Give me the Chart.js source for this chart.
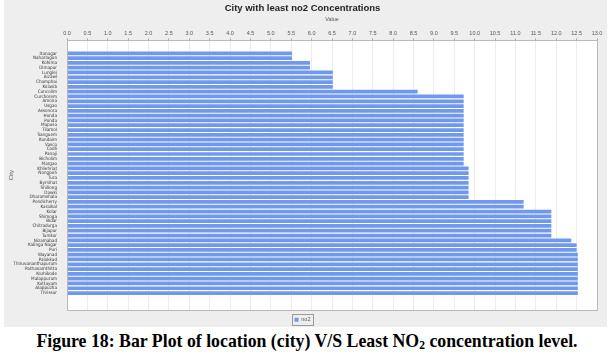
<!DOCTYPE html>
<html><head><meta charset="utf-8">
<script src="https://cdn.jsdelivr.net/npm/chart.js@4"></script>
<style>
html,body{margin:0;padding:0;background:#fff;width:614px;height:354px;overflow:hidden}
#panel{position:absolute;left:4px;top:0;width:603px;height:327px;background:#eeeeee}
#cap{position:absolute;left:0;top:331px;width:614px;text-align:center;font:bold 17.8px/20px "Liberation Serif","Times New Roman",serif;color:#000;white-space:nowrap}
#cap sub{font-size:11.5px;vertical-align:-2px;line-height:0}
</style></head><body>
<div id="panel"><canvas id="c" width="603" height="327"></canvas></div>
<div id="cap">Figure 18: Bar Plot of location (city) V/S Least NO<sub>2</sub> concentration level.</div>
<script>
const cities = ["Itanagar","Naharlagun","Kohima","Dimapur","Lunglei","Aizawl","Champhai","Kolasib","Cuncolim","Curchorem","Amona","Usgao","Assonora","Honda","Ponda","Mapusa","Tilamol","Sanguem","Kundaim","Vasco","Codli","Panaji","Bicholim","Margao","Khliehriat","Nongpoh","Tura","Byrnihat","Shillong","Dawki","Dharamshala","Pondicherry","Karaikal","Kolar","Shimoga","Bidar","Chitradurga","Bijapur","Tumkur","Nizamabad","Kalinga Nagar","Puri","Wayanad","Palakkad","Thiruvananthapuram","Pathanamthitta","Kozhikode","Malappuram","Kottayam","Alappuzha","Thrissur"];
const no2 = [5.52,5.52,5.96,5.96,6.52,6.52,6.52,6.52,8.6,9.73,9.73,9.73,9.73,9.73,9.73,9.73,9.73,9.73,9.73,9.73,9.73,9.73,9.73,9.73,9.85,9.85,9.85,9.85,9.85,9.85,9.85,11.2,11.2,11.88,11.88,11.88,11.88,11.88,11.88,12.37,12.5,12.5,12.53,12.53,12.53,12.53,12.53,12.53,12.53,12.53,12.53];
const seriesName = "no2";
const chartTitle = "City with least no2 Concentrations";
const xAxisTitle = "Value";
const yAxisTitle = "City";
const xMin = 0, xMax = 13, xStep = 0.5;

const plotFrame = {
  id: 'plotFrame',
  afterLayout(chart) {
    const y = chart.scales.y;
    const L = y.bottom - y.top;
    y._startPixel = y.top + L * 0.039;
    y._endPixel = y.bottom - L * 0.054;
    y._length = y._endPixel - y._startPixel;
  },
  beforeDraw(chart) {
    const {ctx, chartArea: a} = chart;
    ctx.save();
    ctx.fillStyle = '#ffffff';
    ctx.fillRect(a.left, a.top, a.right - a.left, a.bottom - a.top);
    ctx.restore();
  },
  afterDraw(chart) {
    const {ctx, chartArea: a} = chart;
    ctx.save();
    ctx.strokeStyle = '#b8b8b8';
    ctx.lineWidth = 1;
    ctx.strokeRect(Math.round(a.left) + 0.5, Math.round(a.top) + 0.5, Math.round(a.right - a.left), Math.round(a.bottom - a.top));
    const hb = chart.legend.legendHitBoxes[0];
    if (hb) {
      ctx.strokeStyle = '#9a9a9a';
      ctx.strokeRect(Math.round(hb.left) - 2.5, Math.round(hb.top) - 2.5, Math.round(hb.width) + 5, Math.round(hb.height) + 5);
    }
    ctx.restore();
  }
};

new Chart(document.getElementById('c'), {
  type: 'bar',
  data: {
    labels: cities,
    datasets: [{
      label: seriesName,
      data: no2,
      backgroundColor: 'rgb(112,152,236)',
      borderWidth: 0,
      barPercentage: 0.78,
      categoryPercentage: 1.0
    }]
  },
  plugins: [plotFrame],
  options: {
    indexAxis: 'y',
    responsive: false,
    animation: false,
    devicePixelRatio: 1,
    layout: { padding: { left: 4, right: 10, top: 0, bottom: 0 } },
    plugins: {
      title: {
        display: true,
        text: chartTitle,
        color: '#222',
        font: { family: 'Liberation Sans', size: 9.5, weight: 'bold' },
        padding: { top: 3, bottom: 2 }
      },
      legend: {
        position: 'bottom',
        maxHeight: 17,
        labels: {
          boxWidth: 4, boxHeight: 4, padding: 7,
          color: '#555',
          font: { family: 'Liberation Sans', size: 5.5 }
        }
      },
      tooltip: { enabled: false }
    },
    scales: {
      x: {
        position: 'top',
        min: xMin, max: xMax,
        afterFit(s) { s.height = 24; },
        ticks: {
          stepSize: xStep,
          color: '#555',
          font: { family: 'Liberation Sans', size: 5.5 },
          padding: 2,
          maxRotation: 0,
          callback: v => Number(v).toFixed(1)
        },
        grid: { color: '#ececec', tickColor: '#aaa', tickLength: 2, drawTicks: true },
        border: { display: false },
        title: {
          display: true, text: xAxisTitle, color: '#555',
          font: { family: 'Liberation Sans', size: 5.5 },
          padding: { top: 0, bottom: 1 }
        }
      },
      y: {
        offset: true,
        afterFit(s) { s.width = 59; },
        ticks: {
          autoSkip: false,
          color: '#333',
          font: { family: "'Liberation Sans Narrow','DejaVu Sans Condensed',sans-serif", size: 4.6 },
          padding: 2
        },
        grid: { display: false },
        border: { display: false },
        title: {
          display: true, text: yAxisTitle, color: '#555',
          font: { family: 'Liberation Sans', size: 6 },
          padding: 0
        }
      }
    }
  }
});
</script>
</body></html>
